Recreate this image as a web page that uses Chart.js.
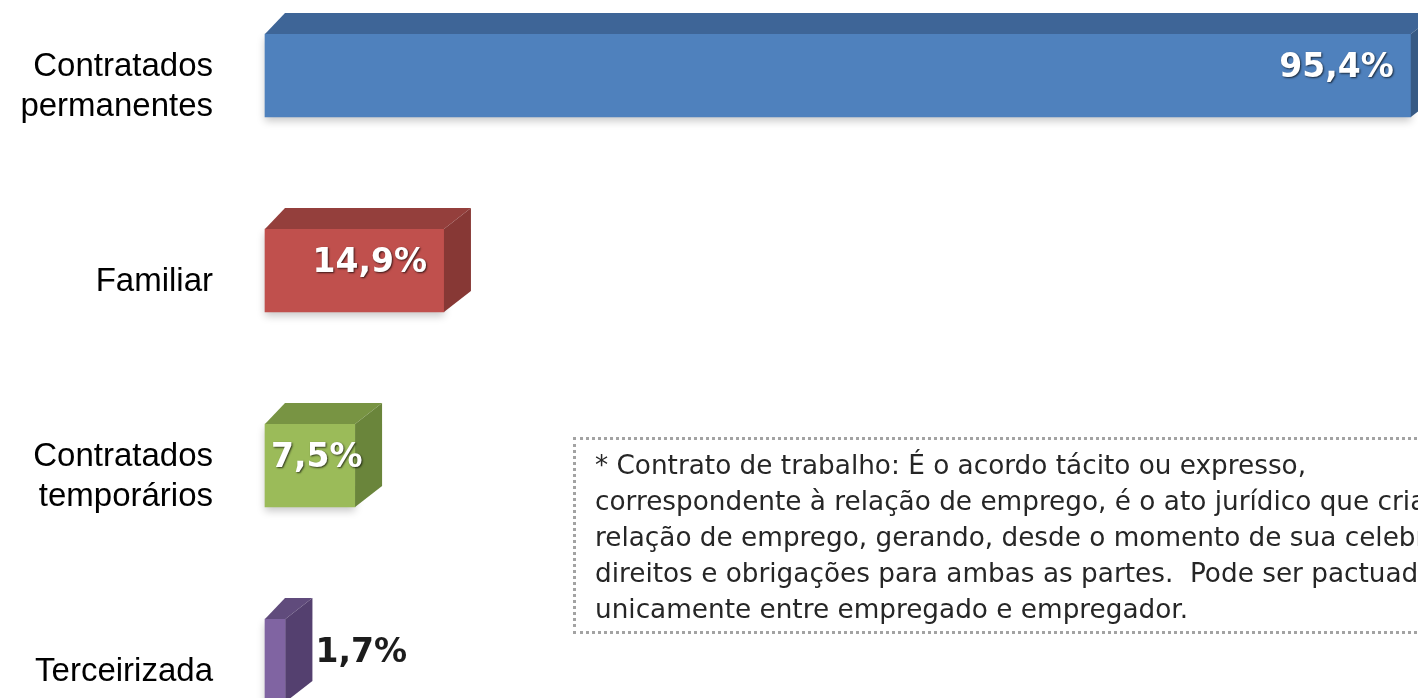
<!DOCTYPE html>
<html>
<head>
<meta charset="utf-8">
<script src="https://cdn.jsdelivr.net/npm/chart.js@4.4.1/dist/chart.umd.min.js"></script>
<style>
    html, body { margin: 0; padding: 0; background: #fff; overflow: hidden; }
    #wrap { position: relative; width: 1418px; height: 698px; overflow: hidden; }
    #note {
        position: absolute; left: 573px; top: 437px; width: 1000px; height: 197px;
        box-sizing: border-box; border: 3px dotted #a3a3a3;
        padding: 7px 0 0 19px;
        font: 26.3px 'DejaVu Sans', sans-serif; line-height: 36px; color: #262626;
        white-space: nowrap;
    }
</style>
</head>
<body>
<div id="wrap">
    <canvas id="myChart" width="1418" height="698"></canvas>
    <div id="note">* Contrato de trabalho: É o acordo tácito ou expresso,<br>correspondente à relação de emprego, é o ato jurídico que cria a<br>relação de emprego, gerando, desde o momento de sua celebração,<br>direitos e obrigações para ambas as partes.&nbsp; Pode ser pactuado<br>unicamente entre empregado e empregador.</div>
</div>
<script>
// data
const categories = [['Contratados', 'permanentes'], 'Familiar', ['Contratados', 'temporários'], 'Terceirizada'];
const values = [95.4, 14.9, 7.5, 1.7];
const valueLabels = ['95,4%', '14,9%', '7,5%', '1,7%'];
const xMax = 96;

// colours of the three visible faces
const frontColors = ['#4f81bd', '#c0504d', '#9bbb59', '#8064a2'];
const topColors = ['#3e6597', '#943f3c', '#789443', '#604b7c'];
const sideColors = ['#375a85', '#873835', '#6a853b', '#54406f'];

// fake 3d depth
const depth = { left: 20, right: 27, up: 21 };

const bar3d = {
    id: 'bar3d',
    beforeDatasetsDraw(chart) {
        const ctx = chart.ctx;
        ctx.save();
        ctx.shadowColor = 'rgba(0,0,0,0.22)';
        ctx.shadowBlur = 8;
        ctx.shadowOffsetY = 4;
        ctx.fillStyle = '#ffffff';
        chart.getDatasetMeta(0).data.forEach((bar) => {
            const { x, y, base, height } = bar.getProps(['x', 'y', 'base', 'height'], true);
            ctx.fillRect(base, y - height / 2, x - base, height);
        });
        ctx.restore();
    },
    afterDatasetsDraw(chart) {
        const ctx = chart.ctx;
        ctx.save();
        chart.getDatasetMeta(0).data.forEach((bar, i) => {
            const { x, y, base, height } = bar.getProps(['x', 'y', 'base', 'height'], true);
            const top = y - height / 2;
            const bottom = y + height / 2;
            // top face
            ctx.fillStyle = topColors[i];
            ctx.beginPath();
            ctx.moveTo(base, top);
            ctx.lineTo(base + depth.left, top - depth.up);
            ctx.lineTo(x + depth.right, top - depth.up);
            ctx.lineTo(x, top);
            ctx.closePath();
            ctx.fill();
            // side face
            ctx.fillStyle = sideColors[i];
            ctx.beginPath();
            ctx.moveTo(x, top);
            ctx.lineTo(x + depth.right, top - depth.up);
            ctx.lineTo(x + depth.right, bottom - depth.up);
            ctx.lineTo(x, bottom);
            ctx.closePath();
            ctx.fill();
        });
        ctx.restore();
    }
};

const valueLabelPlugin = {
    id: 'valueLabels',
    afterDraw(chart) {
        const ctx = chart.ctx;
        ctx.save();
        ctx.font = 'bold 33px "DejaVu Sans"';
        ctx.textBaseline = 'middle';
        chart.getDatasetMeta(0).data.forEach((bar, i) => {
            const { x, y, base } = bar.getProps(['x', 'y', 'base'], true);
            const text = valueLabels[i];
            const w = ctx.measureText(text).width;
            const bw = x - base;
            const ty = y - 7;
            if (bw < 40) {
                // too thin: outside, dark
                ctx.textAlign = 'left';
                ctx.fillStyle = '#1c1c1c';
                ctx.fillText(text, x + depth.right + 3, ty);
                return;
            }
            ctx.shadowColor = 'rgba(0,0,0,0.7)';
            ctx.shadowBlur = 2;
            ctx.shadowOffsetX = 1;
            ctx.shadowOffsetY = 1;
            ctx.fillStyle = '#ffffff';
            if (w + 30 < bw) {
                ctx.textAlign = 'right';
                ctx.fillText(text, x - 17, ty);
            } else {
                ctx.textAlign = 'left';
                ctx.fillText(text, base + 6, ty);
            }
            ctx.shadowColor = 'transparent';
        });
        ctx.restore();
    }
};

const data = {
    labels: categories,
    datasets: [
        {
            data: values,
            backgroundColor: frontColors,
            borderWidth: 0,
            barThickness: 83,
            clip: false
        }
    ]
};

const config = {
    type: 'bar',
    data,
    options: {
        indexAxis: 'y',
        responsive: false,
        animation: false,
        devicePixelRatio: 1,
        layout: {
            padding: { left: 0, right: 0, top: 75.5, bottom: 37.5 }
        },
        scales: {
            x: {
                display: false,
                min: 0,
                max: xMax
            },
            y: {
                offset: false,
                grid: { display: false, drawTicks: false },
                border: { display: false },
                ticks: {
                    padding: 52,
                    labelOffset: 11,
                    color: '#000000',
                    font: { family: '"Liberation Sans", Arial, sans-serif', size: 33, lineHeight: 1.21 }
                },
                afterFit(scale) {
                    scale.width = 265;
                    scale.paddingTop = 0;
                    scale.paddingBottom = 0;
                }
            }
        },
        plugins: {
            legend: { display: false },
            tooltip: { enabled: false }
        }
    },
    plugins: [bar3d, valueLabelPlugin]
};

const myChart = new Chart(document.getElementById('myChart'), config);
</script>
</body>
</html>
